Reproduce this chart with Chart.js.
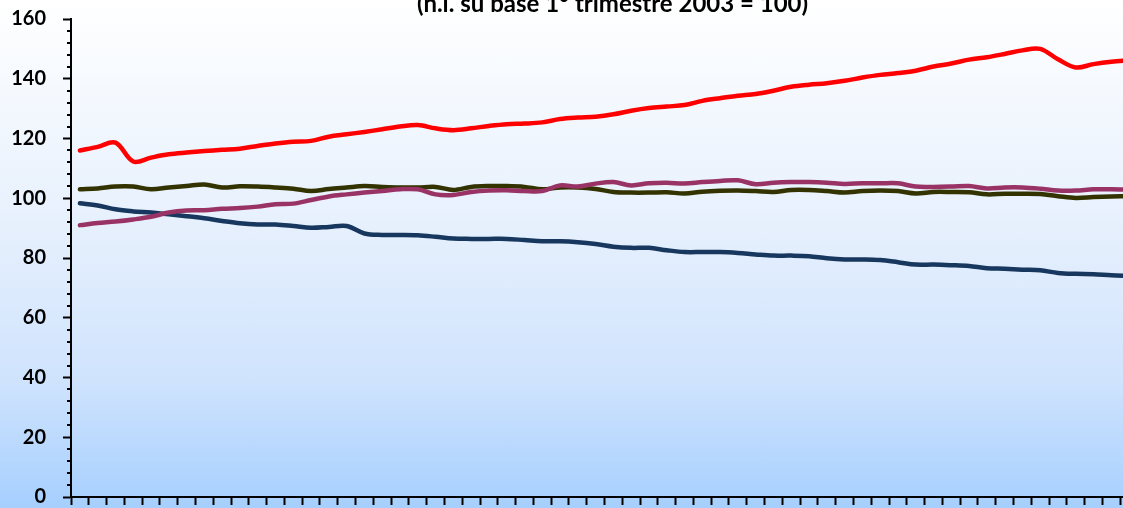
<!DOCTYPE html>
<html>
<head>
<meta charset="utf-8">
<script src="https://cdn.jsdelivr.net/npm/chart.js@4.4.1/dist/chart.umd.min.js"></script>
<style>
  html, body { margin: 0; padding: 0; overflow: hidden; }
  #wrap {
    position: relative;
    width: 1123px;
    height: 508px;
    overflow: hidden;
    background: linear-gradient(to bottom, #ffffff 0%, #e6f0fd 45%, #cfe3fd 75%, #a6cffe 100%);
  }
  #chart { position: absolute; left: 0; top: -10px; }
</style>
</head>
<body>
<div id="wrap">
  <canvas id="chart" width="1150" height="536"></canvas>
</div>
<script>
const titleText = '(n.i. su base 1° trimestre 2003 = 100)';

const quarters = [
  'I 2003', 'II 2003', 'III 2003', 'IV 2003', 'I 2004', 'II 2004', 'III 2004', 'IV 2004',
  'I 2005', 'II 2005', 'III 2005', 'IV 2005', 'I 2006', 'II 2006', 'III 2006', 'IV 2006',
  'I 2007', 'II 2007', 'III 2007', 'IV 2007', 'I 2008', 'II 2008', 'III 2008', 'IV 2008',
  'I 2009', 'II 2009', 'III 2009', 'IV 2009', 'I 2010', 'II 2010', 'III 2010', 'IV 2010',
  'I 2011', 'II 2011', 'III 2011', 'IV 2011', 'I 2012', 'II 2012', 'III 2012', 'IV 2012',
  'I 2013', 'II 2013', 'III 2013', 'IV 2013', 'I 2014', 'II 2014', 'III 2014', 'IV 2014',
  'I 2015', 'II 2015', 'III 2015', 'IV 2015', 'I 2016', 'II 2016', 'III 2016', 'IV 2016',
  'I 2017', 'II 2017', 'III 2017', 'IV 2017'
];

const redSeries = [116.0, 117.2, 118.6, 112.3, 113.6, 114.7, 115.3, 115.8, 116.2, 116.6,
  117.5, 118.3, 118.9, 119.2, 120.6, 121.4, 122.2, 123.1, 124.0, 124.5,
  123.4, 122.8, 123.4, 124.2, 124.8, 125.0, 125.4, 126.5, 127.0, 127.3,
  128.1, 129.3, 130.2, 130.7, 131.2, 132.6, 133.5, 134.3, 134.9, 136.0,
  137.3, 138.0, 138.5, 139.3, 140.4, 141.3, 141.9, 142.7, 144.1, 145.1,
  146.4, 147.2, 148.3, 149.5, 150.0, 146.5, 143.8, 144.9, 145.7, 146.2];

const oliveSeries = [103.0, 103.3, 103.9, 103.9, 103.0, 103.6, 104.1, 104.6, 103.6, 104.0,
  103.9, 103.6, 103.2, 102.4, 103.1, 103.6, 104.1, 103.8, 103.6, 103.6,
  103.8, 102.8, 103.8, 104.1, 104.1, 103.8, 103.0, 103.6, 103.6, 103.1,
  102.1, 101.9, 101.9, 102.0, 101.6, 102.2, 102.5, 102.6, 102.4, 102.1,
  102.8, 102.8, 102.4, 101.9, 102.4, 102.6, 102.4, 101.6, 102.1, 102.1,
  102.0, 101.3, 101.5, 101.5, 101.4, 100.7, 100.1, 100.4, 100.6, 100.7];

const maroonSeries = [91.0, 91.7, 92.2, 92.9, 93.8, 95.2, 95.9, 96.0, 96.5, 96.7,
  97.2, 98.0, 98.2, 99.4, 100.6, 101.3, 101.9, 102.4, 103.0, 103.0,
  101.3, 101.1, 102.1, 102.6, 102.7, 102.4, 102.4, 104.3, 103.9, 104.9,
  105.4, 104.3, 105.0, 105.2, 104.9, 105.4, 105.8, 106.0, 104.7, 105.2,
  105.4, 105.4, 105.2, 104.8, 105.0, 105.0, 105.0, 103.9, 103.8, 103.9,
  104.1, 103.3, 103.6, 103.6, 103.2, 102.6, 102.6, 103.0, 103.0, 102.9];

const navySeries = [98.3, 97.6, 96.3, 95.6, 95.2, 94.6, 94.0, 93.3, 92.4, 91.6,
  91.2, 91.2, 90.7, 90.1, 90.4, 90.7, 88.2, 87.7, 87.7, 87.6,
  87.1, 86.5, 86.4, 86.4, 86.4, 86.0, 85.6, 85.6, 85.3, 84.7,
  83.8, 83.4, 83.4, 82.6, 82.0, 82.0, 82.0, 81.7, 81.2, 80.8,
  80.8, 80.6, 79.9, 79.5, 79.5, 79.3, 78.6, 77.8, 77.8, 77.6,
  77.3, 76.6, 76.4, 76.1, 75.9, 75.0, 74.7, 74.6, 74.2, 74.0];

const yMin = 0;
const yMax = 160;
const yStep = 20;
const yMinorStep = 4;

// title over the plot + the small minor ticks on the y axis
const extrasPlugin = {
  id: 'extras',
  afterDraw(chart) {
    const ctx = chart.ctx;
    const area = chart.chartArea;
    const y = chart.scales.y;

    ctx.save();
    ctx.strokeStyle = '#000';
    ctx.lineWidth = 2;
    ctx.beginPath();
    for (let v = yMin; v <= yMax; v += yMinorStep) {
      if (v % yStep === 0) continue;
      const py = Math.round(y.getPixelForValue(v));
      ctx.moveTo(area.left - 4, py);
      ctx.lineTo(area.left, py);
    }
    ctx.stroke();

    ctx.fillStyle = '#000';
    ctx.font = 'bold 24px Lato';
    ctx.textAlign = 'center';
    ctx.textBaseline = 'alphabetic';
    ctx.fillText(titleText, (area.left + area.right) / 2 + 8, area.top - 7);
    ctx.restore();
  }
};

const ctx = document.getElementById('chart').getContext('2d');
const chart = new Chart(ctx, {
  type: 'line',
  data: {
    labels: quarters,
    datasets: [
      { label: 'Serie 1', data: redSeries, borderColor: '#ff0000' },
      { label: 'Serie 2', data: maroonSeries, borderColor: '#993366' },
      { label: 'Serie 3', data: oliveSeries, borderColor: '#333300' },
      { label: 'Serie 4', data: navySeries, borderColor: '#17375e' }
    ]
  },
  options: {
    responsive: false,
    animation: false,
    layout: { padding: { top: 20, right: 12, bottom: 15, left: 0 } },
    elements: {
      line: { borderWidth: 4.5, tension: 0.35, borderCapStyle: 'round', fill: false },
      point: { radius: 0, hoverRadius: 0 }
    },
    plugins: {
      legend: { display: false },
      title: { display: false },
      tooltip: { enabled: false }
    },
    scales: {
      x: {
        offset: true,
        grid: {
          offset: true,
          drawOnChartArea: false,
          drawTicks: true,
          tickLength: 8,
          tickWidth: 2,
          tickColor: '#000'
        },
        border: { display: true, color: '#000', width: 2 },
        ticks: { display: false, autoSkip: false }
      },
      y: {
        min: yMin,
        max: yMax,
        afterFit(scale) { scale.width = 71; },
        grid: {
          drawOnChartArea: false,
          drawTicks: true,
          tickLength: 8,
          tickWidth: 2,
          tickColor: '#000'
        },
        border: { display: true, color: '#000', width: 2 },
        ticks: {
          stepSize: yStep,
          padding: 17,
          color: '#000',
          font: { family: 'Lato', weight: 'bold', size: 20 }
        }
      }
    }
  },
  plugins: [extrasPlugin]
});
</script>
</body>
</html>
